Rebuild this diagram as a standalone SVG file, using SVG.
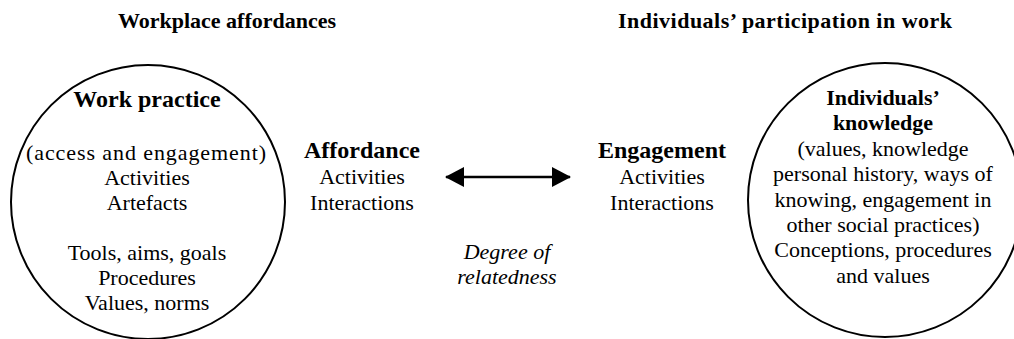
<svg xmlns="http://www.w3.org/2000/svg" width="1014" height="339" viewBox="0 0 1014 339">
<style>
.t{font-size:22px;font-weight:bold;text-anchor:middle}
.h{font-size:24px;font-weight:bold;text-anchor:middle}
.hb{font-size:22px;font-weight:bold;text-anchor:middle}
.b{font-size:22px;text-anchor:middle}
.i{font-size:22px;font-style:italic;text-anchor:middle}
.c{fill:none;stroke:#000;stroke-width:2}
</style>
<defs>
<marker id="ah" markerWidth="19" markerHeight="20" refX="18" refY="10" orient="auto-start-reverse" markerUnits="userSpaceOnUse">
<path d="M0,0 L19,10 L0,20 Z" fill="#000"/>
</marker>
</defs>
<rect width="1014" height="339" fill="#fff"/>
<text class="t" font-family="'Liberation Serif'" x="227" y="28">Workplace affordances</text>
<text class="t" font-family="'Liberation Serif'" x="785" y="28" textLength="334">Individuals’ participation in work</text>
<g id="work-practice">
<circle class="c" cx="148" cy="202" r="137"/>
<text class="h" font-family="'Liberation Serif'" x="147" y="107">Work practice</text>
<text class="b" font-family="'Liberation Serif'" x="146" y="160" textLength="240">(access and engagement)</text>
<text class="b" font-family="'Liberation Serif'" x="147" y="185">Activities</text>
<text class="b" font-family="'Liberation Serif'" x="147" y="210">Artefacts</text>
<text class="b" font-family="'Liberation Serif'" x="147" y="260">Tools, aims, goals</text>
<text class="b" font-family="'Liberation Serif'" x="147" y="285">Procedures</text>
<text class="b" font-family="'Liberation Serif'" x="147" y="310">Values, norms</text>
</g>
<g id="affordance">
<text class="h" font-family="'Liberation Serif'" x="362" y="158">Affordance</text>
<text class="b" font-family="'Liberation Serif'" x="362" y="184">Activities</text>
<text class="b" font-family="'Liberation Serif'" x="362" y="210">Interactions</text>
</g>
<g id="engagement">
<text class="h" font-family="'Liberation Serif'" x="662" y="158">Engagement</text>
<text class="b" font-family="'Liberation Serif'" x="662" y="184">Activities</text>
<text class="b" font-family="'Liberation Serif'" x="662" y="210">Interactions</text>
</g>
<g id="individuals-knowledge">
<circle class="c" cx="885" cy="200" r="137"/>
<text class="hb" font-family="'Liberation Serif'" x="883" y="105">Individuals’</text>
<text class="hb" font-family="'Liberation Serif'" x="883" y="130">knowledge</text>
<text class="b" font-family="'Liberation Serif'" x="883" y="156">(values, knowledge</text>
<text class="b" font-family="'Liberation Serif'" x="883" y="181">personal history, ways of</text>
<text class="b" font-family="'Liberation Serif'" x="883" y="207">knowing, engagement in</text>
<text class="b" font-family="'Liberation Serif'" x="883" y="232">other social practices)</text>
<text class="b" font-family="'Liberation Serif'" x="883" y="257">Conceptions, procedures</text>
<text class="b" font-family="'Liberation Serif'" x="883" y="283">and values</text>
</g>
<g id="connectors">
<line x1="446" y1="177" x2="570" y2="177" stroke="#000" stroke-width="2.5" marker-start="url(#ah)" marker-end="url(#ah)"/>
<text class="i" font-family="'Liberation Serif'" x="507" y="259">Degree of</text>
<text class="i" font-family="'Liberation Serif'" x="507" y="284">relatedness</text>
</g>
</svg>
